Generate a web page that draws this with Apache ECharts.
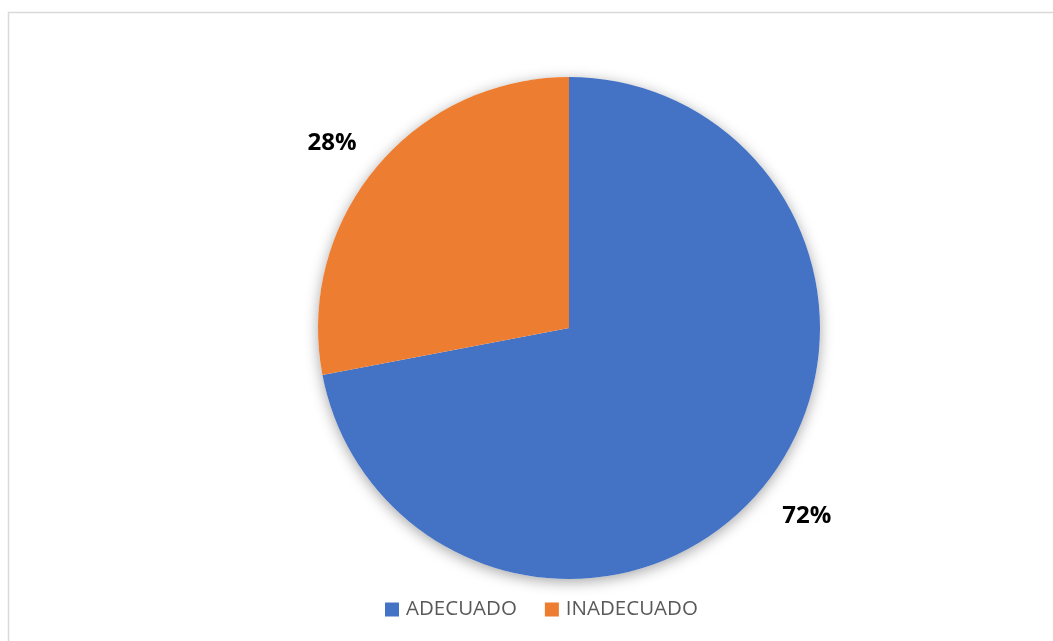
<!DOCTYPE html>
<html>
<head>
<meta charset="utf-8">
<script src="https://cdn.jsdelivr.net/npm/echarts@6/dist/echarts.min.js"></script>
<style>
  html, body { margin: 0; padding: 0; background: #ffffff; }
  #chart { width: 1053px; height: 641px; }
</style>
</head>
<body>
<div id="chart"></div>
<script>
// Categories and their shares (percent)
const categories = ['ADECUADO', 'INADECUADO'];
const values = [72, 28];
const colors = ['#4472C4', '#ED7D31'];

// Per-slice outside label offsets (label line hidden)
const labelLineLengths = [44, 39];
const labelLineLengths2 = [-19, -16];

const chart = echarts.init(document.getElementById('chart'), null, { renderer: 'canvas' });

const pieData = categories.map((name, i) => ({
  name: name,
  value: values[i],
  itemStyle: { color: colors[i] },
  labelLine: { show: false, length: labelLineLengths[i], length2: labelLineLengths2[i] }
}));

const option = {
  backgroundColor: '#ffffff',
  animation: false,
  graphic: [{
    // chart frame
    type: 'rect',
    shape: { x: 8.5, y: 12.5, width: 1070, height: 660 },
    style: { fill: 'none', stroke: '#d9d9d9', lineWidth: 1.5 },
    silent: true, z: -10
  }],
  legend: {
    data: categories,
    left: 385,
    top: 599,
    padding: 0,
    itemWidth: 14,
    itemHeight: 14,
    itemGap: 28,
    icon: 'rect',
    textStyle: {
      fontFamily: 'Open Sans',
      fontSize: 20.5,
      color: '#595959',
      padding: [0, 0, 0, 2]
    }
  },
  series: [
    {
      // soft drop shadow behind the whole pie
      type: 'pie',
      silent: true,
      center: [569, 328],
      radius: 251,
      z: 1,
      label: { show: false },
      labelLine: { show: false },
      itemStyle: {
        color: '#ffffff',
        shadowBlur: 14,
        shadowColor: 'rgba(0,0,0,0.35)',
        shadowOffsetY: 3
      },
      data: [{ value: 1, name: '' }]
    },
    {
      type: 'pie',
      center: [569, 328],
      radius: 251,
      startAngle: 90,
      clockwise: true,
      z: 2,
      avoidLabelOverlap: false,
      itemStyle: { borderWidth: 0 },
      label: {
        show: true,
        position: 'outside',
        formatter: '{c}%',
        fontFamily: 'Open Sans',
        fontWeight: 'bold',
        fontSize: 24,
        color: '#000000',
        distanceToLabelLine: 5
      },
      data: pieData
    }
  ]
};

chart.setOption(option);
</script>
</body>
</html>
